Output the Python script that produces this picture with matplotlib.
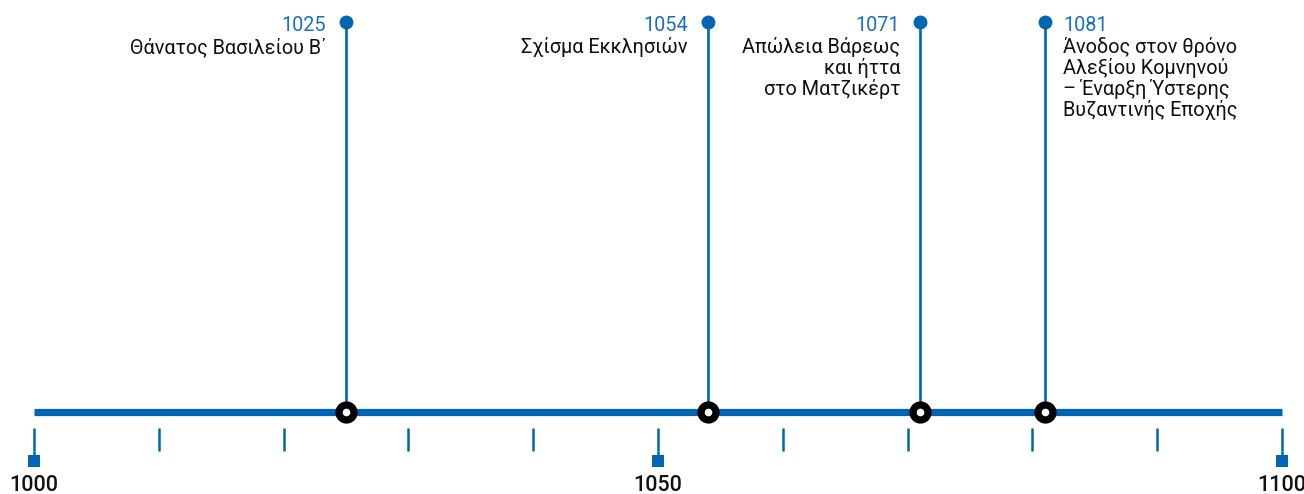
import matplotlib
matplotlib.use("Agg")
import matplotlib.pyplot as plt

# ---- data ----
event_years = [1025, 1054, 1071, 1081]
event_labels = [
    ["Θάνατος Βασιλείου Β΄"],
    ["Σχίσμα Εκκλησιών"],
    ["Απώλεια Βάρεως", "και ήττα", "στο Ματζικέρτ"],
    ["Άνοδος στον θρόνο", "Αλεξίου Κομνηνού", "– Έναρξη Ύστερης", "Βυζαντινής Εποχής"],
]
event_sides = ["left", "left", "left", "right"]
axis_start, axis_end = 1000, 1100
minor_ticks = list(range(1000, 1101, 10))
major_ticks = [1000, 1050, 1100]

BLUE = "#0066b3"
YEARBLUE = "#1a70bf"
FONT = ["Roboto", "DejaVu Sans"]

W, H = 1304, 494
fig = plt.figure(figsize=(W / 100, H / 100), dpi=100)
ax = fig.add_axes([0, 0, 1, 1])
ppy = (1282 - 34) / 100.0
ax.set_xlim(1000 - 34 / ppy, 1000 + (W - 34) / ppy)
ax.set_ylim(H, 0)
ax.axis("off")

line_y = 412
# main line
ax.plot([axis_start, axis_end], [line_y, line_y], color=BLUE, lw=5.2,
        solid_capstyle="butt", zorder=2)

# ticks
for t in minor_ticks:
    ax.plot([t, t], [428, 451], color=BLUE, lw=1.8, solid_capstyle="butt", zorder=2)
for t in major_ticks:
    ax.plot([t, t], [451, 461], color=BLUE, lw=1.8, solid_capstyle="butt", zorder=2)
    ax.plot([t], [461], marker="s", ms=8, color=BLUE, mew=0, zorder=3)
    ax.text(t, 491, str(t), ha="center", va="baseline", fontsize=15.5,
            family=FONT, weight="medium", color="#111111")

# events
top_y = 22
year_base = 31
first_base = 53
dy = 21
for yr, lines, side in zip(event_years, event_labels, event_sides):
    ax.plot([yr, yr], [top_y, line_y], color=BLUE, lw=1.9, zorder=2)
    ax.plot([yr], [top_y], marker="o", ms=10, color=BLUE, mew=0, zorder=3)
    ax.plot([yr], [line_y], marker="o", ms=16, color="black", mew=0, zorder=4)
    ax.plot([yr], [line_y], marker="o", ms=5.5, color="white", mew=0, zorder=5)
    if side == "left":
        tx = yr - 20 / ppy
        ha = "right"
    else:
        tx = yr + 18 / ppy
        ha = "left"
    ax.text(tx, year_base, str(yr), ha=ha, va="baseline", fontsize=14.3,
            family=FONT, color=YEARBLUE)
    for i, ln in enumerate(lines):
        ax.text(tx, first_base + i * dy, ln, ha=ha, va="baseline", fontsize=14.3,
                family=FONT, color="#111111")

fig.savefig("out.png", dpi=100)
